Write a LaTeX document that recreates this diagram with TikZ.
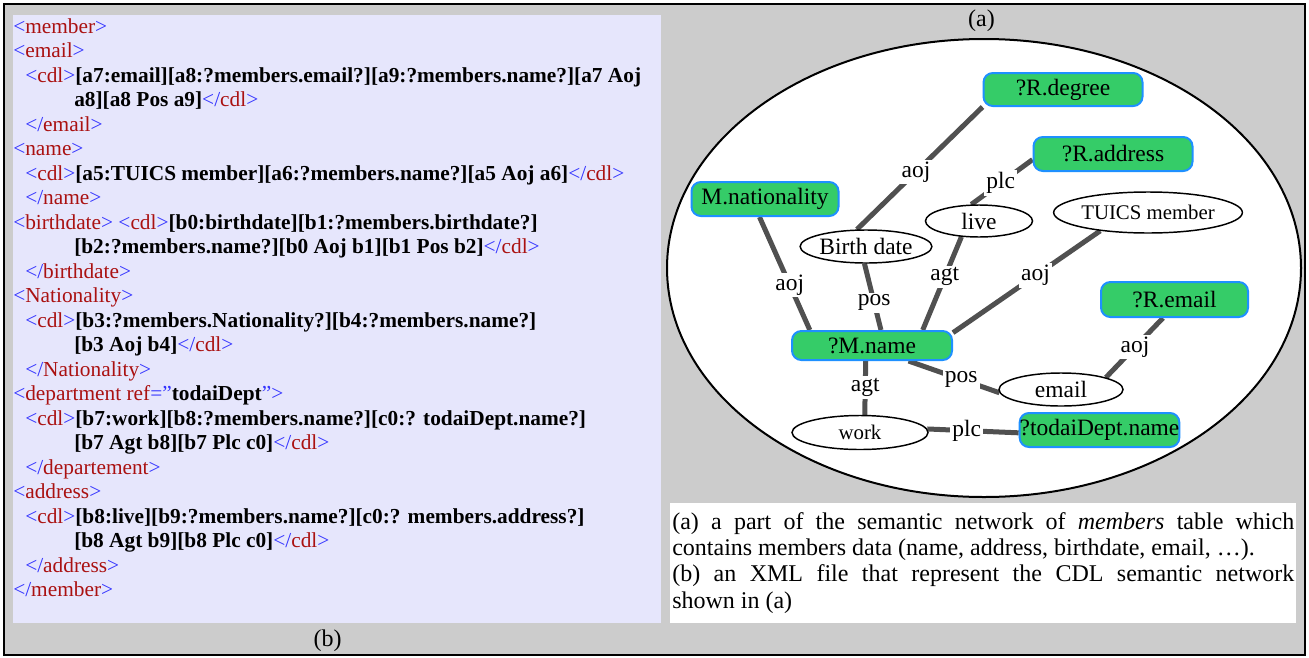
\documentclass[tikz,border=0pt]{standalone}
\usepackage{fontspec}
\setmainfont{Liberation Serif}
\usetikzlibrary{shapes.geometric}

\definecolor{framegray}{RGB}{204,204,204}
\definecolor{panelblue}{RGB}{230,230,252}
\definecolor{tagb}{RGB}{51,51,255}
\definecolor{tagr}{RGB}{170,17,17}
\definecolor{leaf}{RGB}{53,204,104}
\definecolor{leafline}{RGB}{30,144,255}
\definecolor{linkgray}{RGB}{80,80,80}

% XML markup helpers
\newcommand\tagB[1]{\textcolor{tagb}{#1}}
\newcommand\tagR[1]{\textcolor{tagr}{#1}}
\newcommand\topen[1]{\tagB{<}\tagR{#1}\tagB{>}}
\newcommand\tclose[1]{\tagB{</}\tagR{#1}\tagB{>}}

% font sizes
\newcommand\xmlfont{\fontsize{16pt}{19pt}\selectfont}
\newcommand\netfont{\fontsize{17.6pt}{20pt}\selectfont}
\newcommand\netsmall{\fontsize{15.6pt}{18pt}\selectfont}
\newcommand\capfont{\fontsize{18pt}{19.8pt}\selectfont}

\pgfdeclarelayer{panel}
\pgfdeclarelayer{links}
\pgfsetlayers{panel,links,main}

\begin{document}
\begin{tikzpicture}[x=0.75pt,y=-0.75pt,
  xml/.style={anchor=base west,inner sep=0pt,font=\xmlfont},
  leafbox/.style={rectangle,rounded corners=7pt,draw=leafline,line width=1.5pt,
    fill=leaf,inner sep=0pt,font=\netfont},
  concept/.style={ellipse,draw=black,line width=1.1pt,fill=white,inner sep=0pt,
    font=\netfont},
  link/.style={draw=linkgray,line width=3.75pt},
  rel/.style={fill=white,inner sep=1.5pt,font=\netfont},
  tag/.style={inner sep=0pt,font=\capfont}]

\useasboundingbox (0,0) rectangle (1309,657);

% ---------- panels ----------
\begin{pgfonlayer}{panel}
  \fill[white] (0,0) rectangle (1309,657);
  \draw[fill=framegray,line width=1.5pt] (4,4) rectangle (1305,655);
  \fill[panelblue] (13,15) rectangle (661,623);
  \draw[fill=white,line width=1.5pt] (984,268) ellipse [x radius=317,y radius=229];
  \fill[white] (670,503) rectangle (1296,623);
\end{pgfonlayer}

\node[tag] (tagb) at (327.5,641) {(b)};
\node[tag] (taga) at (981.5,21) {(a)};

% ---------- XML listing ----------
\node[xml] (l1)  at (13,33)    {\topen{member}};
\node[xml] (l2)  at (13,57.5)  {\topen{email}};
\node[xml] (l3)  at (25,82)    {\topen{cdl}\textbf{[a7:email][a8:?members.email?][a9:?members.name?][a7 Aoj}};
\node[xml] (l4)  at (74,106.5) {\textbf{a8][a8 Pos a9]}\tclose{cdl}};
\node[xml] (l5)  at (25,131)   {\tclose{email}};
\node[xml] (l6)  at (13,155.5) {\topen{name}};
\node[xml] (l7)  at (25,180)   {\topen{cdl}\textbf{[a5:TUICS member][a6:?members.name?][a5 Aoj a6]}\tclose{cdl}};
\node[xml] (l8)  at (25,204.5) {\tclose{name}};
\node[xml] (l9)  at (13,229)   {\topen{birthdate} \topen{cdl}\textbf{[b0:birthdate][b1:?members.birthdate?]}};
\node[xml] (l10) at (74,253.5) {\textbf{[b2:?members.name?][b0 Aoj b1][b1 Pos b2]}\tclose{cdl}};
\node[xml] (l11) at (25,278)   {\tclose{birthdate}};
\node[xml] (l12) at (13,302.5) {\topen{Nationality}};
\node[xml] (l13) at (25,327)   {\topen{cdl}\textbf{[b3:?members.Nationality?][b4:?members.name?]}};
\node[xml] (l14) at (74,351.5) {\textbf{[b3 Aoj b4]}\tclose{cdl}};
\node[xml] (l15) at (25,376)   {\tclose{Nationality}};
\node[xml] (l16) at (13,400.5) {\tagB{<}\tagR{department ref}\tagB{=”}\textbf{todaiDept}\tagB{”>}};
\node[xml] (l17) at (25,425)   {\topen{cdl}\textbf{[b7:work][b8:?members.name?][c0:? todaiDept.name?]}};
\node[xml] (l18) at (74,449.5) {\textbf{[b7 Agt b8][b7 Plc c0]}\tclose{cdl}};
\node[xml] (l19) at (25,474)   {\tclose{departement}};
\node[xml] (l20) at (13,498.5) {\topen{address}};
\node[xml] (l21) at (25,523)   {\topen{cdl}\textbf{[b8:live][b9:?members.name?][c0:? members.address?]}};
\node[xml] (l22) at (74,547.5) {\textbf{[b8 Agt b9][b8 Plc c0]}\tclose{cdl}};
\node[xml] (l23) at (25,572)   {\tclose{address}};
\node[xml] (l24) at (13,596.5) {\tclose{member}};

% ---------- semantic network ----------
\node[leafbox,minimum width=119.25pt,minimum height=24.75pt] (deg)    at (1063,89.5)  {?R.degree};
\node[leafbox,minimum width=119.25pt,minimum height=25.5pt]  (addr)   at (1113,154)   {?R.address};
\node[leafbox,minimum width=110.25pt,minimum height=25.5pt]  (nat)    at (765,199)    {M.nationality};
\node[leafbox,minimum width=120pt,minimum height=21.75pt]    (mname)  at (872,345.5)  {?M.name};
\node[leafbox,minimum width=110.25pt,minimum height=26.25pt] (remail) at (1174.5,299.5) {?R.email};
\node[leafbox,minimum width=119.25pt,minimum height=25.5pt]  (todai)  at (1099.5,430) {?todaiDept.name};

\node[concept,minimum width=84pt,minimum height=24.75pt]   (bd)    at (866,246.5)  {Birth date};
\node[concept,minimum width=80.25pt,minimum height=24pt]   (live)  at (979,221)    {live};
\node[concept,minimum width=127.5pt,minimum height=30.75pt,font=\netsmall] (tuics) at (1148,212.5) {TUICS member};
\node[concept,minimum width=93pt,minimum height=24.75pt]   (email) at (1061,389.5) {email};
\node[concept,minimum width=102pt,minimum height=25.5pt,font=\netsmall] (work) at (860,432.5) {work};

\begin{pgfonlayer}{links}
  \draw[link] (bd.118)    -- node[rel,pos=.47]{aoj} (deg.south west);
  \draw[link] (live.115)  -- node[rel,pos=.48]{plc} (addr.184);
  \draw[link] (nat.253)   -- node[rel,pos=.60]{aoj} (mname.166);
  \draw[link] (bd.265)    -- node[rel,pos=.59]{pos} (mname.60);
  \draw[link] (live.222)  -- node[rel,pos=.43]{agt} (mname.17);
  \draw[link] (tuics.201) -- node[rel,pos=.44]{aoj} (mname.9);
  \draw[link] (remail.238) -- node[rel,pos=.49]{aoj} (email.15);
  \draw[link] (mname.337) -- node[rel,pos=.58]{pos} (email.183);
  \draw[link] (mname.248) -- node[rel,pos=.49]{agt} (work.75);
  \draw[link] (work.3)    -- node[rel,pos=.43]{plc} (todai.182);
\end{pgfonlayer}

% ---------- caption ----------
\node[anchor=north west,inner sep=0pt,text width=466.5pt,align=justify,font=\capfont] (caption) at (672,512)
  {(a) a part of the semantic network of \textit{members} table which\linebreak
   contains members data (name, address, birthdate, email, …).\\
   (b) an XML file that represent the CDL semantic network\linebreak
   shown in (a)};

\end{tikzpicture}
\end{document}
